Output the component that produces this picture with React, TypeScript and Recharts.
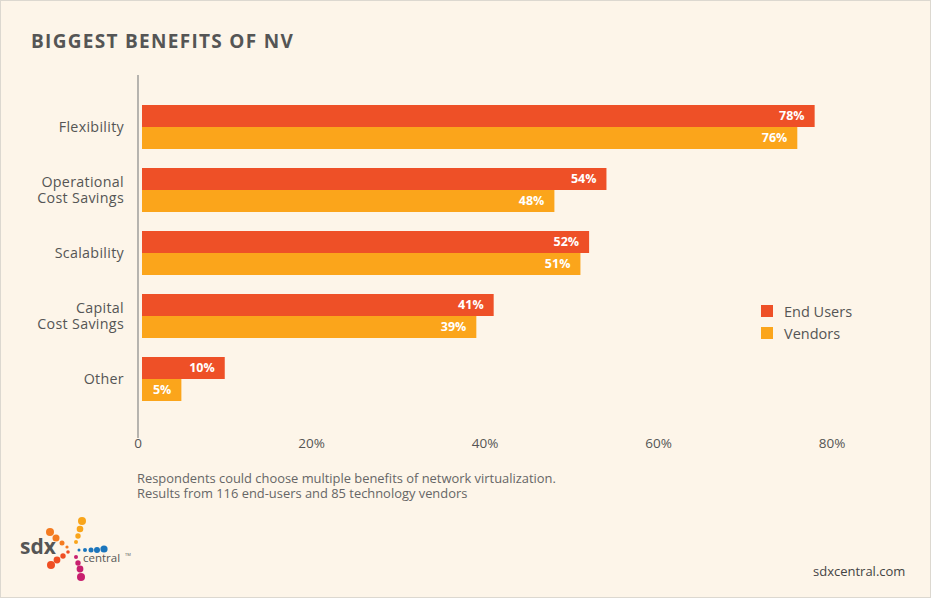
import React from "react";
import { BarChart, Bar, XAxis, YAxis, LabelList } from "recharts";

const categories = ["Flexibility", "Operational\nCost Savings", "Scalability", "Capital\nCost Savings", "Other"];
const endUsers = [78, 54, 52, 41, 10];
const vendors = [76, 48, 51, 39, 5];
const xTicks = [0, 20, 40, 60, 80];
const seriesNames = ["End Users", "Vendors"];

const data = categories.map((c, i) => ({ name: c, endUsers: endUsers[i], vendors: vendors[i] }));

const FONT = "'Open Sans', Lato, sans-serif";
const RED = "#EE5027";
const ORANGE = "#FBA51B";
const seriesColors = [RED, ORANGE];
const TEXT = "#555";

const OffsetBar = (props: any) => {
  const { x, y, width, height, fill } = props;
  const gap = 4;
  const w = Math.max(0, width - gap);
  return <rect x={x + gap} y={y} width={w} height={height} fill={fill} />;
};

const CatTick = (props: any) => {
  const { x, y, payload } = props;
  const lines = String(payload.value).split("\n");
  const lh = 16;
  const start = -((lines.length - 1) * lh) / 2;
  return (
    <g>
      {lines.map((l, i) => (
        <text
          key={i}
          x={x}
          y={y + start + i * lh + 5}
          textAnchor="end"
          fill={TEXT}
          fontSize={14.3}
          letterSpacing={0.3}
          fontFamily={FONT}
        >
          {l}
        </text>
      ))}
    </g>
  );
};

const Logo = () => {
  const dots: [number, number, number, string][] = [
    [49, 531, 4, "#F47B20"], [55, 537, 3.5, "#F47B20"], [61, 542, 2.5, "#F47B20"], [66, 546, 1.6, "#F47B20"],
    [81, 520, 4, "#F9A51A"], [79, 528, 3.3, "#F9A51A"], [77, 535, 2.7, "#F9A51A"], [75, 541, 2, "#F9A51A"],
    [78, 549, 1.5, "#1B75BC"], [84, 549, 2, "#1B75BC"], [90, 549, 2.5, "#1B75BC"], [96, 549, 3, "#1B75BC"], [103, 548, 3.6, "#1B75BC"],
    [50, 564, 4, "#EF4E23"], [56, 559, 3.4, "#EF4E23"], [62, 555, 2.7, "#EF4E23"], [67, 551, 1.8, "#EF4E23"],
    [80, 576, 4, "#C81F6E"], [79, 568, 3.4, "#C81F6E"], [77, 562, 2.7, "#C81F6E"], [75, 556, 2, "#C81F6E"],
  ];
  return (
    <svg width={931} height={598} style={{ position: "absolute", left: 0, top: 0, pointerEvents: "none" }}>
      <text x={19} y={553} fontSize={21} fontWeight={700} fill="#555" fontFamily={FONT}>sdx</text>
      {dots.map((d, i) => (
        <circle key={i} cx={d[0]} cy={d[1]} r={d[2]} fill={d[3]} />
      ))}
      <text x={82} y={561} fontSize={11.5} fill="#555" fontFamily={FONT}>central</text>
      <text x={124} y={555} fontSize={4} fill="#555" fontFamily={FONT}>TM</text>
    </svg>
  );
};

export default function App() {
  return (
    <div
      style={{
        position: "absolute",
        left: 0,
        top: 0,
        width: 931,
        height: 598,
        boxSizing: "border-box",
        border: "1px solid #dcd8d0",
        background: "#FDF5E9",
        overflow: "hidden",
        fontFamily: FONT,
      }}
    >
      <style>{"body{margin:0}"}</style>
      <div
        style={{
          position: "absolute",
          left: 30,
          top: 28,
          fontSize: 19,
          fontWeight: 700,
          letterSpacing: 1.3,
          color: TEXT,
          fontFamily: FONT,
          lineHeight: "24px",
          whiteSpace: "nowrap",
        }}
      >
        BIGGEST BENEFITS OF NV
      </div>
      <div style={{ position: "absolute", left: -1, top: -1 }}>
        <BarChart
          width={931}
          height={598}
          data={data}
          layout="vertical"
          margin={{ top: 75, right: 99, bottom: 130, left: 0 }}
          barGap={0}
        >
          <XAxis
            type="number"
            domain={[0, 80]}
            ticks={xTicks}
            axisLine={false}
            tickLine={false}
            tickSize={0}
            tickMargin={0}
            height={30}
            interval={0}
            tick={{ fill: TEXT, fontSize: 13.5, fontFamily: FONT }}
            tickFormatter={(v: number) => (v === 0 ? "0" : `${v}%`)}
          />
          <YAxis
            type="category"
            dataKey="name"
            width={138}
            padding={{ top: 20, bottom: 28 }}
            axisLine={{ stroke: "#888", strokeWidth: 1.2 }}
            tickLine={false}
            tickMargin={8}
            tick={<CatTick />}
          />
          <Bar dataKey="endUsers" name={seriesNames[0]} fill={RED} barSize={22} isAnimationActive={false} shape={<OffsetBar />}>
            <LabelList
              dataKey="endUsers"
              position="insideRight"
              offset={10}
              fill="#fff"
              fontSize={12.5}
              fontWeight={700}
              fontFamily={FONT}
              formatter={(v: any) => `${v}%`}
            />
          </Bar>
          <Bar dataKey="vendors" name={seriesNames[1]} fill={ORANGE} barSize={22} isAnimationActive={false} shape={<OffsetBar />}>
            <LabelList
              dataKey="vendors"
              position="insideRight"
              offset={10}
              fill="#fff"
              fontSize={12.5}
              fontWeight={700}
              fontFamily={FONT}
              formatter={(v: any) => `${v}%`}
            />
          </Bar>
        </BarChart>
      </div>
      <div style={{ position: "absolute", left: 760, top: 299, fontFamily: FONT, fontSize: 14.5, color: TEXT }}>
        {seriesNames.map((n, i) => (
          <div key={n} style={{ display: "flex", alignItems: "center", height: 22 }}>
            <span style={{ display: "inline-block", width: 12, height: 12, background: seriesColors[i], marginRight: 11 }} />
            <span>{n}</span>
          </div>
        ))}
      </div>
      <div
        style={{
          position: "absolute",
          left: 136,
          top: 470,
          fontSize: 12.9,
          color: "#666",
          fontFamily: FONT,
          whiteSpace: "nowrap",
        }}
      >
        <div style={{ height: 15, lineHeight: "15px" }}>
          Respondents could choose multiple benefits of network virtualization.
        </div>
        <div style={{ height: 15, lineHeight: "15px" }}>Results from 116 end-users and 85 technology vendors</div>
      </div>
      <Logo />
      <div style={{ position: "absolute", left: 812, top: 561, fontSize: 13, color: "#444", fontFamily: FONT }}>
        sdxcentral.com
      </div>
    </div>
  );
}
